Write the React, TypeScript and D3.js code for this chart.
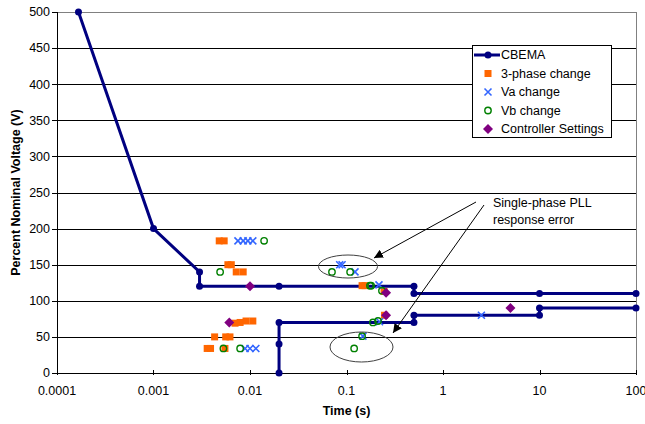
import React from "react";
import * as d3 from "d3";

const xTickValues = [0.0001, 0.001, 0.01, 0.1, 1, 10, 100];
const xTickLabels = ["0.0001", "0.001", "0.01", "0.1", "1", "10", "100"];
const yTickValues = [0, 50, 100, 150, 200, 250, 300, 350, 400, 450, 500];

const cbemaUpperT = [0.000167, 0.001, 0.003, 0.003, 0.02, 0.5, 0.5, 10, 100];
const cbemaUpperV = [500, 200, 140, 120, 120, 120, 110, 110, 110];
const cbemaLowerT = [0.02, 0.02, 0.02, 0.5, 0.5, 10, 10, 100];
const cbemaLowerV = [0, 40, 70, 70, 80, 80, 90, 90];

const threePhaseT = [0.0048, 0.0054, 0.0059, 0.0064, 0.0072, 0.0085, 0.007, 0.0079, 0.0091, 0.0107, 0.0043, 0.0056, 0.0062, 0.0036, 0.0039, 0.0055, 0.145, 0.156, 0.245, 0.248];
const threePhaseV = [183, 183, 150, 150, 140, 140, 69, 70, 72, 72, 50, 50, 50, 34, 34, 34, 121, 121, 113, 80];

const vaT = [0.0075, 0.0085, 0.0095, 0.0107, 0.0089, 0.01, 0.0115, 0.085, 0.09, 0.1225, 0.217, 0.22, 0.148, 2.5];
const vaV = [183, 183, 183, 183, 34, 34, 34, 150, 150, 140, 122, 71, 51, 80];

const vbT = [0.014, 0.0049, 0.0053, 0.0079, 0.0707, 0.109, 0.175, 0.18, 0.233, 0.188, 0.212, 0.145, 0.12];
const vbV = [183, 140, 34, 34, 140, 140, 121, 121, 114, 70, 72, 51, 34];

const ctrlT = [0.01, 0.0061, 0.257, 0.257, 5];
const ctrlV = [120, 70, 111, 80, 90];

const legendLabels = ["CBEMA", "3-phase change", "Va change", "Vb change", "Controller Settings"];

const NAVY = "#000080";
const ORANGE = "#FF6600";
const BLUE = "#3366FF";
const GREEN = "#008000";
const PURPLE = "#800080";
const FONT = "Arial, 'Liberation Sans', sans-serif";

const Square = ({ cx, cy }: { cx: number; cy: number }) => (
  <rect x={cx - 3.5} y={cy - 3.5} width={7} height={7} fill={ORANGE} />
);
const Cross = ({ cx, cy }: { cx: number; cy: number }) => (
  <path d={`M${cx - 3.5},${cy - 3.5}L${cx + 3.5},${cy + 3.5}M${cx - 3.5},${cy + 3.5}L${cx + 3.5},${cy - 3.5}`} stroke={BLUE} strokeWidth={1.6} fill="none" />
);
const Circle = ({ cx, cy }: { cx: number; cy: number }) => (
  <circle cx={cx} cy={cy} r={3.2} fill="none" stroke={GREEN} strokeWidth={1.4} />
);
const Diamond = ({ cx, cy }: { cx: number; cy: number }) => (
  <path d={`M${cx},${cy - 5}L${cx + 5},${cy}L${cx},${cy + 5}L${cx - 5},${cy}Z`} fill={PURPLE} />
);

export default function App() {
  const x = d3.scaleLog().domain([1e-4, 100]).range([57, 636]);
  const y = d3.scaleLinear().domain([0, 500]).range([373, 12]);
  const line = d3
    .line<[number, number]>()
    .x((d) => x(d[0]))
    .y((d) => y(d[1]));
  const upper: [number, number][] = cbemaUpperT.map((t, i) => [t, cbemaUpperV[i]]);
  const lower: [number, number][] = cbemaLowerT.map((t, i) => [t, cbemaLowerV[i]]);
  const [x0, x1] = x.range();
  const [y0, y1] = y.range();

  const legendX = 472;
  const legendY = 45;
  const legendRowY = [55, 73.5, 92, 110.5, 129];
  const symX = 488;

  return (
    <div style={{ position: "fixed", left: 0, top: 0 }}>
      <svg width={645} height={424} style={{ display: "block", background: "#fff" }} fontFamily={FONT}>
        <defs>
          <marker id="arr" viewBox="0 0 10 10" refX="10" refY="5" markerWidth="9" markerHeight="9" orient="auto" markerUnits="userSpaceOnUse">
            <path d="M0,0L10,5L0,10Z" fill="#000" />
          </marker>
        </defs>
        {/* gridlines */}
        {yTickValues.filter((v) => v > 0 && v < 500).map((v) => (
          <line key={v} x1={x0} x2={x1} y1={Math.round(y(v)) + 0.5} y2={Math.round(y(v)) + 0.5} stroke="#000" strokeWidth={1} />
        ))}
        {/* plot border */}
        <rect x={x0 + 0.5} y={Math.round(y1) + 0.5} width={x1 - x0} height={y0 - y1} fill="none" stroke="#808080" strokeWidth={1} />
        {/* axes */}
        <line x1={x0 + 0.5} x2={x0 + 0.5} y1={y1} y2={y0} stroke="#000" />
        <line x1={x0} x2={x1} y1={Math.round(y0) + 0.5} y2={Math.round(y0) + 0.5} stroke="#000" />
        {yTickValues.map((v) => (
          <g key={v}>
            <line x1={x0 - 5} x2={x0} y1={Math.round(y(v)) + 0.5} y2={Math.round(y(v)) + 0.5} stroke="#000" />
            <text x={50} y={y(v)} dy="0.35em" textAnchor="end" fontSize={12.5} fill="#000">
              {v}
            </text>
          </g>
        ))}
        {xTickValues.map((v, i) => (
          <g key={v}>
            <line x1={Math.round(x(v)) + 0.5} x2={Math.round(x(v)) + 0.5} y1={y0 - 3} y2={y0 + 2} stroke="#000" />
            <text x={x(v)} y={395} textAnchor="middle" fontSize={12.5} fill="#000">
              {xTickLabels[i]}
            </text>
          </g>
        ))}
        <text x={(x0 + x1) / 2} y={415} textAnchor="middle" fontSize={12.5} fontWeight="bold">
          Time (s)
        </text>
        <text transform={`translate(20,${(y0 + y1) / 2}) rotate(-90)`} textAnchor="middle" fontSize={12.5} fontWeight="bold">
          Percent Nominal Voltage (V)
        </text>

        {/* CBEMA */}
        <path d={line(upper) || ""} fill="none" stroke={NAVY} strokeWidth={3} />
        <path d={line(lower) || ""} fill="none" stroke={NAVY} strokeWidth={3} />
        {[...upper, ...lower].map((d, i) => (
          <circle key={i} cx={x(d[0])} cy={y(d[1])} r={3.5} fill={NAVY} />
        ))}

        {threePhaseT.map((t, i) => (
          <Square key={"s" + i} cx={x(t)} cy={y(threePhaseV[i])} />
        ))}
        {vaT.map((t, i) => (
          <Cross key={"a" + i} cx={x(t)} cy={y(vaV[i])} />
        ))}
        {vbT.map((t, i) => (
          <Circle key={"b" + i} cx={x(t)} cy={y(vbV[i])} />
        ))}
        {ctrlT.map((t, i) => (
          <Diamond key={"c" + i} cx={x(t)} cy={y(ctrlV[i])} />
        ))}

        {/* annotations */}
        <ellipse cx={348} cy={266.5} rx={29.5} ry={11.5} fill="none" stroke="#404040" strokeWidth={1} />
        <ellipse cx={361.5} cy={347} rx={31.5} ry={15} fill="none" stroke="#404040" strokeWidth={1} />
        <line x1={476} y1={202} x2={374} y2={258} stroke="#000" strokeWidth={1} markerEnd="url(#arr)" />
        <line x1={484} y1={205} x2={393} y2={333} stroke="#000" strokeWidth={1} markerEnd="url(#arr)" />
        <text x={493} y={207} fontSize={12.5}>Single-phase PLL</text>
        <text x={493} y={224} fontSize={12.5}>response error</text>

        {/* legend */}
        <rect x={legendX + 0.5} y={legendY + 0.5} width={139} height={92} fill="#fff" stroke="#000" />
        <line x1={474} x2={500} y1={legendRowY[0]} y2={legendRowY[0]} stroke={NAVY} strokeWidth={3} />
        <circle cx={symX} cy={legendRowY[0]} r={3.5} fill={NAVY} />
        <Square cx={symX} cy={legendRowY[1]} />
        <Cross cx={symX} cy={legendRowY[2]} />
        <Circle cx={symX} cy={legendRowY[3]} />
        <Diamond cx={symX} cy={legendRowY[4]} />
        {legendLabels.map((l, i) => (
          <text key={l} x={501} y={legendRowY[i]} dy="0.35em" fontSize={12.5}>
            {l}
          </text>
        ))}
      </svg>
    </div>
  );
}
